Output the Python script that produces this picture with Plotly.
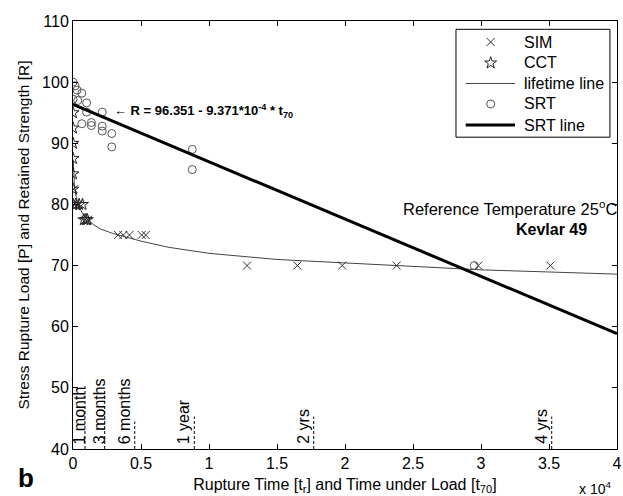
import plotly.graph_objects as go

# ---------------- data ----------------
sim_t = [50, 150, 400, 900, 1100, 3300, 3700, 4150, 5050, 5350, 12800, 16500, 19800, 23800, 29800, 35100]
sim_p = [82.5, 80, 80, 77.5, 77.5, 75, 75, 75, 75, 75, 70, 70, 70, 70, 70, 70]

cct_t = [0, 0, 0, 0, 0, 0, 0, 200, 450, 700, 800, 950, 1050]
cct_p = [95, 92.5, 90, 87.5, 85, 82.5, 80, 80, 80, 80, 77.5, 77.5, 77.5]

life_t = [20, 50, 100, 200, 400, 700, 1000, 1500, 2000, 3000, 4000, 5000, 7000,
          10000, 15000, 20000, 25000, 30000, 35000, 40000]
life_p = [87.3, 85.0, 83.3, 81.6, 79.9, 78.5, 77.6, 76.7, 76.0, 75.2, 74.6, 74.0, 73.0,
          72.0, 71.0, 70.4, 69.8, 69.3, 68.95, 68.6]

srt_t = [0, 150, 300, 650, 0, 350, 1000, 1000, 2150, 650, 1350, 1350, 2150, 2150, 2850, 2850, 8770, 8770, 29500]
srt_r = [100, 99.4, 98.7, 98.2, 97.2, 97.0, 96.6, 95.1, 95.1, 93.2, 93.4, 92.9, 92.8, 92.0, 91.6, 89.4, 89.0, 85.7, 70]

srtline_t = [0, 40000]
srtline_r = [96.351, 58.867]

mark_t = [880, 2330, 4540, 8920, 17700, 35200]
mark_lbl = ['1 month', '3 months', '6 months', '1 year', '2 yrs', '4 yrs']
mark_top = [50.5, 49.5, 44.5, 45.3, 45.3, 45.3]

x_tickvals = [0, 5000, 10000, 15000, 20000, 25000, 30000, 35000, 40000]
x_ticktext = ['0', '0.5', '1', '1.5', '2', '2.5', '3', '3.5', '4']
y_tickvals = [40, 50, 60, 70, 80, 90, 100, 110]

legend_names = ['SIM', 'CCT', 'lifetime line', 'SRT', 'SRT line']

# ---------------- style ----------------
FONT = "Liberation Sans, Arial, Helvetica, sans-serif"
label_xshift = {'1 month': 5, '3 months': 5}   # other labels use 0

sim_style = dict(symbol='x-thin-open', size=8, color='#333333', line=dict(width=1, color='#333333'))
cct_style = dict(symbol='star-open', size=9, color='#222222', line=dict(width=1, color='#222222'))
srt_style = dict(symbol='circle-open', size=8, color='#555555', line=dict(width=1, color='#555555'))
life_style = dict(color='#444444', width=1)
srtl_style = dict(color='black', width=3)

fig = go.Figure()

fig.add_trace(go.Scatter(x=life_t, y=life_p, mode='lines', name='lifetime line',
                         line=life_style, showlegend=False))
fig.add_trace(go.Scatter(x=sim_t, y=sim_p, mode='markers', name='SIM',
                         marker=sim_style, showlegend=False))
fig.add_trace(go.Scatter(x=cct_t, y=cct_p, mode='markers', name='CCT',
                         marker=cct_style, showlegend=False))
fig.add_trace(go.Scatter(x=srt_t, y=srt_r, mode='markers', name='SRT',
                         marker=srt_style, showlegend=False))
fig.add_trace(go.Scatter(x=srtline_t, y=srtline_r, mode='lines', name='SRT line',
                         line=srtl_style, showlegend=False))

# ---------------- legend box (overlay axis in plot-fraction units) ----------------
leg_x0, leg_x1, leg_y0, leg_y1 = 0.704, 0.987, 0.7285, 0.9806
row_y = [0.9509, 0.9019, 0.8540, 0.8061, 0.7570]
sym_x = 0.7678
samp_x0, samp_x1 = 0.7219, 0.8125
text_x = 0.8248

annotations = []
shapes = []
shapes.append(dict(type='rect', xref='x2', yref='y2', x0=leg_x0, x1=leg_x1, y0=leg_y0, y1=leg_y1,
                   line=dict(color='black', width=1), fillcolor='white', layer='below'))
for name, yy in zip(legend_names, row_y):
    annotations.append(dict(x=text_x, y=yy, xref='x2', yref='y2', text=name, showarrow=False,
                            xanchor='left', yanchor='middle',
                            font=dict(family=FONT, size=16, color='black')))
fig.add_trace(go.Scatter(x=[sym_x], y=[row_y[0]], xaxis='x2', yaxis='y2', mode='markers',
                         marker=sim_style, showlegend=False, hoverinfo='skip'))
fig.add_trace(go.Scatter(x=[sym_x], y=[row_y[1]], xaxis='x2', yaxis='y2', mode='markers',
                         marker=cct_style, showlegend=False, hoverinfo='skip'))
fig.add_trace(go.Scatter(x=[samp_x0, samp_x1], y=[row_y[2], row_y[2]], xaxis='x2', yaxis='y2',
                         mode='lines', line=life_style, showlegend=False, hoverinfo='skip'))
fig.add_trace(go.Scatter(x=[sym_x], y=[row_y[3]], xaxis='x2', yaxis='y2', mode='markers',
                         marker=srt_style, showlegend=False, hoverinfo='skip'))
fig.add_trace(go.Scatter(x=[samp_x0, samp_x1], y=[row_y[4], row_y[4]], xaxis='x2', yaxis='y2',
                         mode='lines', line=srtl_style, showlegend=False, hoverinfo='skip'))

# ---------------- time markers ----------------
for t, lbl, top in zip(mark_t, mark_lbl, mark_top):
    shapes.append(dict(type='line', xref='x', yref='y', x0=t, x1=t, y0=40, y1=top,
                       line=dict(color='black', width=1, dash='3px,2px')))
    annotations.append(dict(x=t, y=40, xref='x', yref='y', text=lbl, showarrow=False,
                            textangle=-90, xanchor='right', yanchor='bottom',
                            xshift=label_xshift.get(lbl, 0), yshift=3,
                            font=dict(family=FONT, size=16, color='black')))

annotations.append(dict(x=2900, y=95.2, xref='x', yref='y',
                        text='<b>\u2190 R = 96.351 - 9.371*10<sup>-4</sup> * t<sub>70</sub></b>',
                        showarrow=False, xanchor='left', yanchor='middle',
                        font=dict(family=FONT, size=13, color='black')))
annotations.append(dict(x=40000, y=79.4, xref='x', yref='y',
                        text='Reference Temperature 25<sup>o</sup>C',
                        showarrow=False, xanchor='right', yanchor='middle', xshift=2,
                        font=dict(family=FONT, size=16.5, color='black')))
annotations.append(dict(x=37950, y=75.9, xref='x', yref='y',
                        text='<b>Kevlar 49</b>',
                        showarrow=False, xanchor='right', yanchor='middle',
                        font=dict(family=FONT, size=16, color='black')))
annotations.append(dict(x=1.0, y=-0.091, xref='paper', yref='paper',
                        text='x 10<sup>4</sup>', showarrow=False,
                        xanchor='right', yanchor='middle', xshift=-4,
                        font=dict(family=FONT, size=14, color='black')))
annotations.append(dict(x=-0.086, y=-0.068, xref='paper', yref='paper',
                        text='<b>b</b>', showarrow=False,
                        xanchor='center', yanchor='middle',
                        font=dict(family=FONT, size=26, color='black')))

fig.update_layout(
    width=623, height=496,
    margin=dict(l=73, r=6, t=21, b=47),
    paper_bgcolor='white', plot_bgcolor='white',
    font=dict(family=FONT, size=16, color='black'),
    showlegend=False,
    annotations=annotations,
    shapes=shapes,
    xaxis2=dict(domain=[0, 1], range=[0, 1], overlaying='x', visible=False,
                anchor='y2', fixedrange=True),
    yaxis2=dict(domain=[0, 1], range=[0, 1], overlaying='y', visible=False,
                anchor='x2', fixedrange=True),
    xaxis=dict(range=[0, 40000], tickvals=x_tickvals, ticktext=x_ticktext, automargin=False,
               showline=True, linecolor='black', linewidth=1, mirror='ticks',
               ticks='inside', ticklen=5, tickcolor='black', showgrid=False, zeroline=False,
               tickfont=dict(family=FONT, size=16, color='black'),
               title=dict(text='Rupture Time [t<sub>r</sub>] and Time under Load [t<sub>70</sub>]',
                          font=dict(family=FONT, size=16, color='black'), standoff=7)),
    yaxis=dict(range=[40, 110], tickvals=y_tickvals, automargin=False,
               showline=True, linecolor='black', linewidth=1, mirror='ticks',
               ticks='inside', ticklen=5, tickcolor='black', showgrid=False, zeroline=False,
               tickfont=dict(family=FONT, size=16, color='black'),
               title=dict(text='Stress Rupture Load [P] and Retained Strength [R]',
                          font=dict(family=FONT, size=15.5, color='black'), standoff=8)),
)

fig.write_html("out.html")
